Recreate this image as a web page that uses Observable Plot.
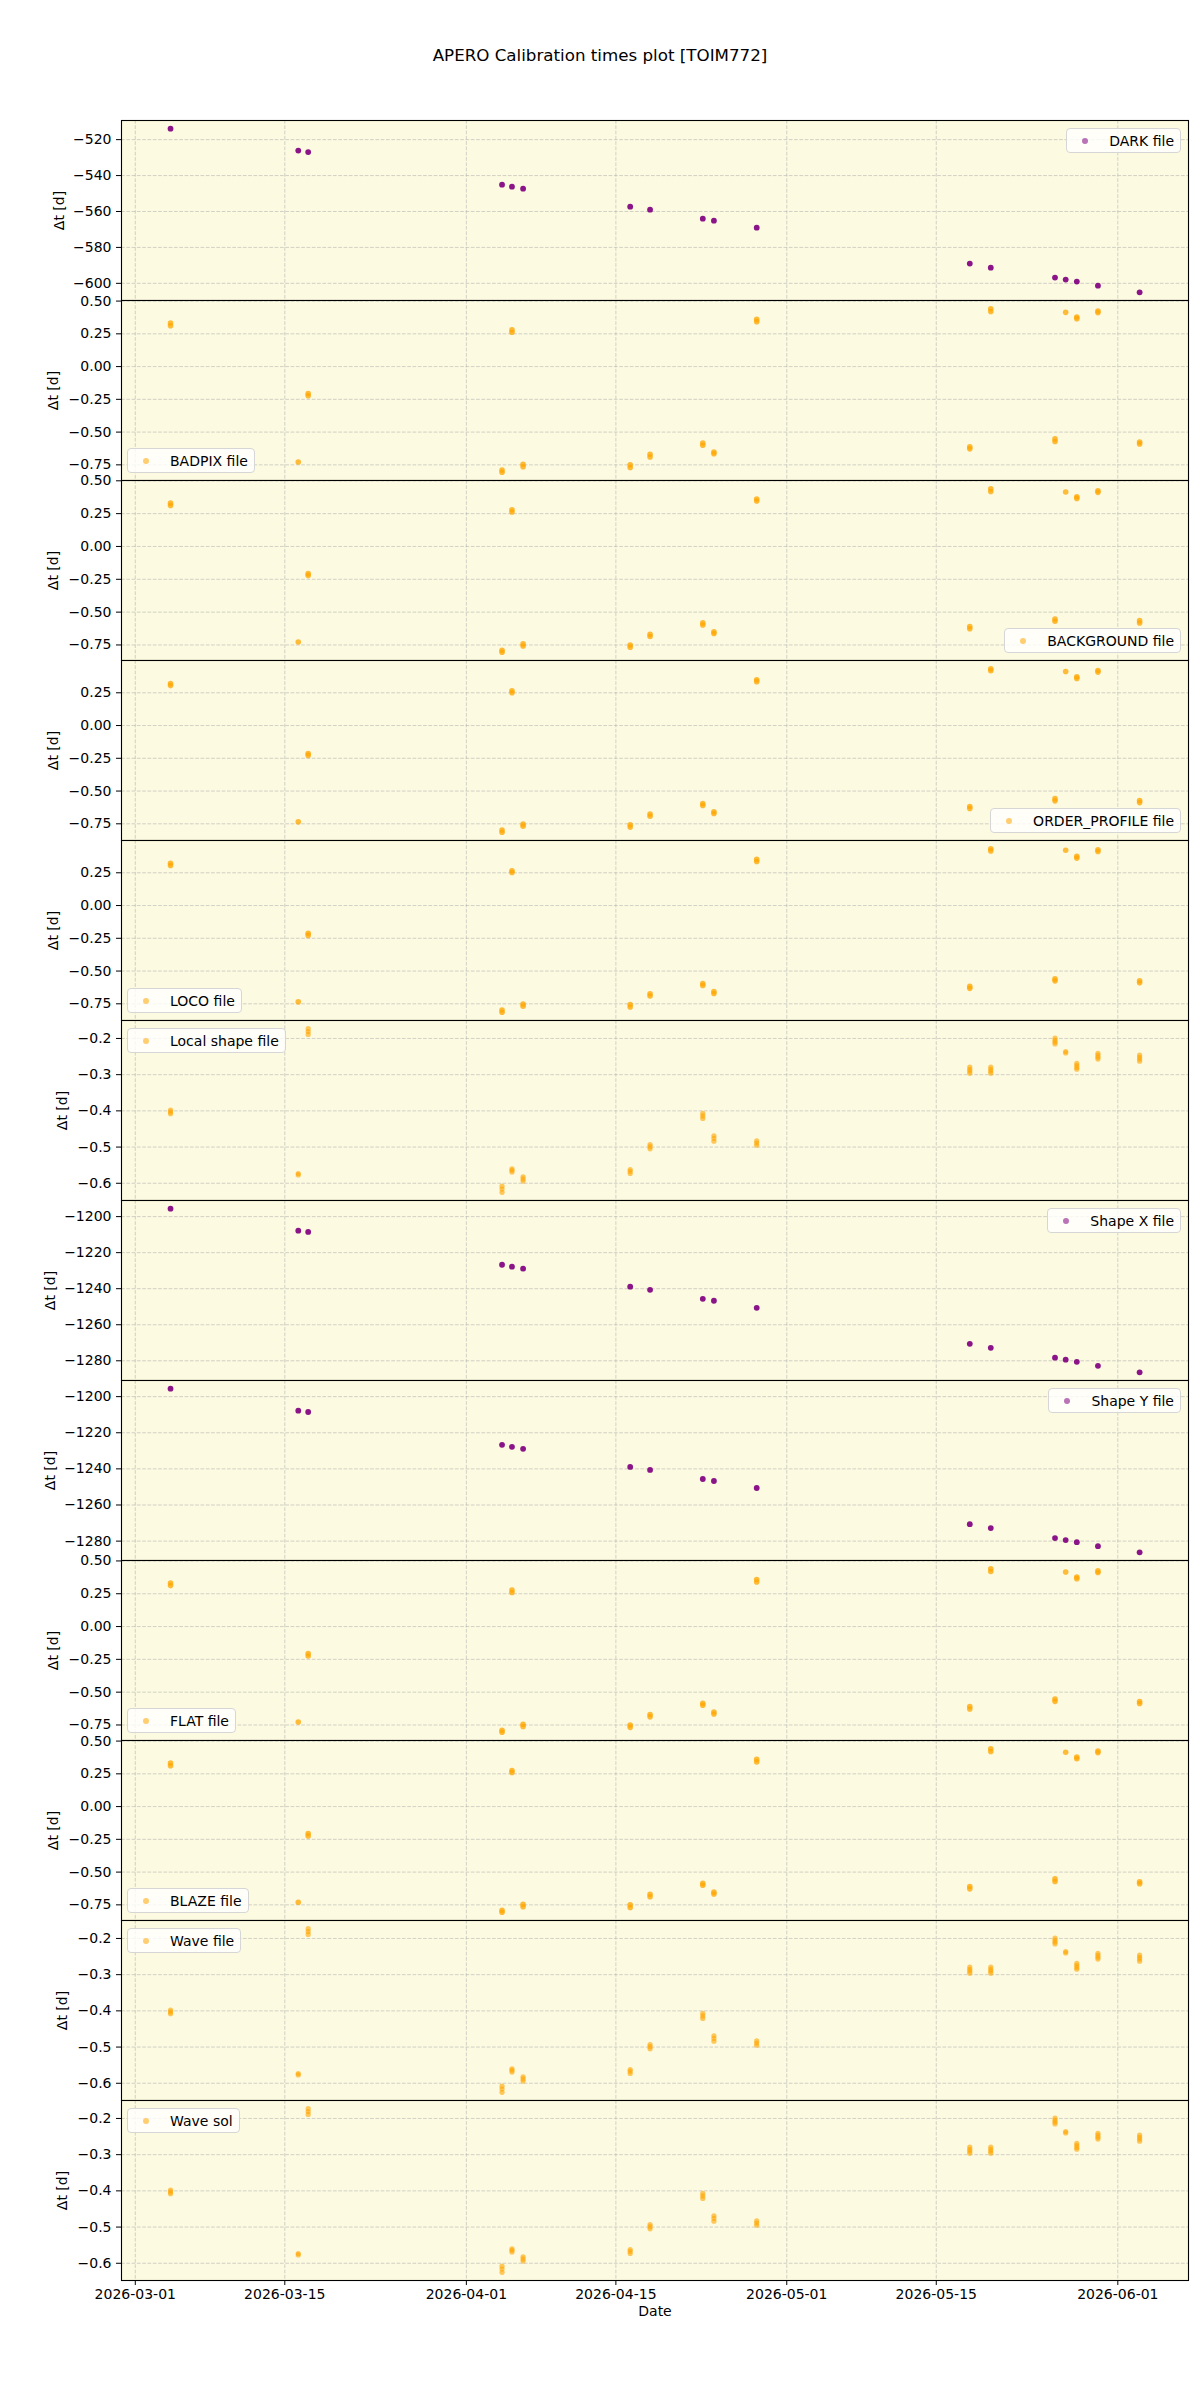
<!DOCTYPE html>
<html>
<head>
<meta charset="utf-8">
<script src="https://cdn.jsdelivr.net/npm/d3@7"></script>
<script src="https://cdn.jsdelivr.net/npm/@observablehq/plot@0.6"></script>
<style>
  html, body { margin: 0; padding: 0; background: #ffffff; }
  body { font-family: "DejaVu Sans", sans-serif; color: #000; width: 1200px; }
  #title { position: relative; height: 120px; width: 1200px; }
  #title div { position: absolute; left: 0; width: 1200px; top: 45px; text-align: center; font-size: 16.7px; line-height: 20px; }
  .panel { position: relative; width: 1200px; }
  .panel svg { display: block; overflow: visible; }
  .legend { position: absolute; box-sizing: border-box; height: 25px; display: flex; align-items: center;
            background: rgba(255,255,255,0.8); border: 1px solid #d6d6d6; border-radius: 4px;
            font-size: 14px; padding-right: 6px; white-space: nowrap; }
  .legend .mk { width: 6px; height: 6px; border-radius: 50%; margin-left: 15px; margin-right: 21px; }
</style>
</head>
<body>
<div id="title"><div>APERO Calibration times plot [TOIM772]</div></div>
<div id="chart"></div>
<script>
// ---------- data ----------
const obsDates = [
  "2026-03-04T07:12", "2026-03-16T06:15", "2026-03-17T04:30", "2026-04-04T08:10",
  "2026-04-05T06:30", "2026-04-06T07:30", "2026-04-16T08:10", "2026-04-18T04:50",
  "2026-04-23T03:20", "2026-04-24T04:20", "2026-04-28T04:30", "2026-05-18T03:20",
  "2026-05-20T02:30", "2026-05-26T02:50", "2026-05-27T02:50", "2026-05-28T03:50",
  "2026-05-30T03:20", "2026-06-03T01:00"
];
const xTickLabels = ["2026-03-01", "2026-03-15", "2026-04-01", "2026-04-15", "2026-05-01", "2026-05-15", "2026-06-01"];
const xLimits = ["2026-02-27T17:00", "2026-06-07T14:50"];

const darkDt = [-513.9, -526.1, -526.9, -545.1, -546.2, -547.3, -557.3, -559.0, -564.0,
  -565.1, -569.0, -589.0, -591.3, -596.8, -597.9, -599.0, -601.3, -605.0];

const badpixDt = [[0.333, 0.312], [-0.728], [-0.205, -0.222], [-0.790, -0.807], [0.280, 0.262],
  [-0.745, -0.765], [-0.750, -0.770], [-0.670, -0.690], [-0.583, -0.600], [-0.652, -0.665],
  [0.360, 0.343], [-0.613, -0.628], [0.442, 0.420], [-0.552, -0.572], [0.414], [0.378, 0.366],
  [0.424, 0.412], [-0.576, -0.590]];
const backgroundDt = [[0.330, 0.312], [-0.728], [-0.207, -0.222], [-0.790, -0.806], [0.279, 0.262],
  [-0.742, -0.758], [-0.750, -0.767], [-0.668, -0.686], [-0.582, -0.598], [-0.650, -0.663],
  [0.362, 0.346], [-0.610, -0.626], [0.440, 0.419], [-0.552, -0.570], [0.415], [0.378, 0.366],
  [0.424, 0.412], [-0.565, -0.582]];
const orderProfileDt = [[0.320, 0.305], [-0.735], [-0.213, -0.228], [-0.798, -0.815], [0.265, 0.250],
  [-0.752, -0.768], [-0.758, -0.775], [-0.675, -0.692], [-0.595, -0.610], [-0.658, -0.671],
  [0.350, 0.335], [-0.618, -0.633], [0.434, 0.418], [-0.558, -0.575], [0.412], [0.372, 0.360],
  [0.420, 0.408], [-0.572, -0.588]];
const locoDt = [[0.322, 0.306], [-0.735], [-0.212, -0.228], [-0.797, -0.815], [0.266, 0.252],
  [-0.752, -0.768], [-0.756, -0.774], [-0.673, -0.690], [-0.595, -0.610], [-0.656, -0.671],
  [0.352, 0.336], [-0.617, -0.632], [0.434, 0.417], [-0.560, -0.575], [0.422], [0.376, 0.362],
  [0.425, 0.412], [-0.575, -0.590]];
const flatDt = [[0.332, 0.312], [-0.728], [-0.206, -0.224], [-0.790, -0.806], [0.278, 0.260],
  [-0.744, -0.762], [-0.750, -0.768], [-0.670, -0.688], [-0.585, -0.600], [-0.652, -0.666],
  [0.358, 0.340], [-0.610, -0.628], [0.441, 0.420], [-0.552, -0.570], [0.416], [0.378, 0.365],
  [0.424, 0.412], [-0.572, -0.586]];
const blazeDt = [[0.332, 0.312], [-0.730], [-0.206, -0.225], [-0.792, -0.807], [0.276, 0.260],
  [-0.746, -0.764], [-0.750, -0.770], [-0.670, -0.688], [-0.586, -0.600], [-0.653, -0.667],
  [0.360, 0.341], [-0.610, -0.628], [0.442, 0.421], [-0.552, -0.572], [0.415], [0.378, 0.365],
  [0.424, 0.412], [-0.574, -0.588]];

const localShapeDt = [[-0.398, -0.403, -0.408], [-0.573, -0.577], [-0.173, -0.181, -0.189],
  [-0.608, -0.616, -0.625], [-0.560, -0.564, -0.569], [-0.582, -0.588, -0.594],
  [-0.562, -0.567, -0.573], [-0.493, -0.499, -0.505], [-0.407, -0.414, -0.421],
  [-0.469, -0.476, -0.484], [-0.483, -0.489, -0.495], [-0.279, -0.285, -0.290, -0.296],
  [-0.279, -0.285, -0.290, -0.296], [-0.199, -0.205, -0.210, -0.215], [-0.236, -0.240],
  [-0.269, -0.275, -0.280, -0.285], [-0.241, -0.247, -0.252, -0.257], [-0.246, -0.252, -0.257, -0.263]];
const waveFileDt = [[-0.398, -0.403, -0.408], [-0.573, -0.577], [-0.173, -0.181, -0.189],
  [-0.608, -0.616, -0.625], [-0.560, -0.564, -0.569], [-0.582, -0.588, -0.594],
  [-0.562, -0.567, -0.573], [-0.493, -0.499, -0.505], [-0.407, -0.414, -0.421],
  [-0.469, -0.476, -0.484], [-0.483, -0.489, -0.495], [-0.279, -0.285, -0.290, -0.296],
  [-0.279, -0.285, -0.290, -0.296], [-0.199, -0.205, -0.210, -0.215], [-0.236, -0.240],
  [-0.269, -0.275, -0.280, -0.285], [-0.241, -0.247, -0.252, -0.257], [-0.246, -0.252, -0.257, -0.263]];
const waveSolDt = [[-0.398, -0.403, -0.408], [-0.573, -0.577], [-0.173, -0.181, -0.189],
  [-0.608, -0.616, -0.625], [-0.560, -0.564, -0.569], [-0.582, -0.588, -0.594],
  [-0.562, -0.567, -0.573], [-0.493, -0.499, -0.505], [-0.407, -0.414, -0.421],
  [-0.469, -0.476, -0.484], [-0.483, -0.489, -0.495], [-0.279, -0.285, -0.290, -0.296],
  [-0.279, -0.285, -0.290, -0.296], [-0.199, -0.205, -0.210, -0.215], [-0.236, -0.240],
  [-0.269, -0.275, -0.280, -0.285], [-0.241, -0.247, -0.252, -0.257], [-0.246, -0.252, -0.257, -0.263]];

const shapeXDt = [-1195.6, -1207.8, -1208.5, -1226.7, -1227.8, -1228.9, -1238.9, -1240.6, -1245.6,
  -1246.7, -1250.6, -1270.6, -1272.8, -1278.3, -1279.4, -1280.6, -1282.8, -1286.4];
const shapeYDt = [-1195.6, -1207.8, -1208.5, -1226.7, -1227.8, -1228.9, -1238.9, -1240.6, -1245.6,
  -1246.7, -1250.6, -1270.6, -1272.8, -1278.3, -1279.4, -1280.6, -1282.8, -1286.2];

const darkTicks = [-600, -580, -560, -540, -520];
const halfTicks = [-0.75, -0.5, -0.25, 0, 0.25, 0.5];
const shapeTicks = [-0.6, -0.5, -0.4, -0.3, -0.2];
const shapeXYTicks = [-1280, -1260, -1240, -1220, -1200];

const panelNames = ["DARK file", "BADPIX file", "BACKGROUND file", "ORDER_PROFILE file", "LOCO file",
  "Local shape file", "Shape X file", "Shape Y file", "FLAT file", "BLAZE file", "Wave file", "Wave sol"];

// ---------- styling / layout ----------
const BG = "#fcfae0";
const PURPLE = "#800080";
const ORANGE = "#ffa500";
const parse = d3.utcParse("%Y-%m-%dT%H:%M");
const parseDay = d3.utcParse("%Y-%m-%d");
const xDomain = xLimits.map(parse);
const xTicks = xTickLabels.map(parseDay);

const panels = [
  {name: panelNames[0], data: darkDt, ticks: darkTicks, fmt: "d", color: PURPLE, op: 0.92, r: 2.9, legend: "ur", ldx: -62},
  {name: panelNames[1], data: badpixDt, ticks: halfTicks, fmt: ".2f", color: ORANGE, op: 0.75, r: 2.8, legend: "ll", ldx: -68},
  {name: panelNames[2], data: backgroundDt, ticks: halfTicks, fmt: ".2f", color: ORANGE, op: 0.75, r: 2.8, legend: "lr", ldx: -68},
  {name: panelNames[3], data: orderProfileDt, ticks: halfTicks, fmt: ".2f", color: ORANGE, op: 0.75, r: 2.8, legend: "lr", ldx: -68},
  {name: panelNames[4], data: locoDt, ticks: halfTicks, fmt: ".2f", color: ORANGE, op: 0.75, r: 2.8, legend: "ll", ldx: -68},
  {name: panelNames[5], data: localShapeDt, ticks: shapeTicks, fmt: ".1f", color: ORANGE, op: 0.6, r: 2.6, legend: "ul", ldx: -59},
  {name: panelNames[6], data: shapeXDt, ticks: shapeXYTicks, fmt: "d", color: PURPLE, op: 0.92, r: 2.9, legend: "ur", ldx: -71},
  {name: panelNames[7], data: shapeYDt, ticks: shapeXYTicks, fmt: "d", color: PURPLE, op: 0.92, r: 2.9, legend: "ur", ldx: -71},
  {name: panelNames[8], data: flatDt, ticks: halfTicks, fmt: ".2f", color: ORANGE, op: 0.75, r: 2.8, legend: "ll", ldx: -68},
  {name: panelNames[9], data: blazeDt, ticks: halfTicks, fmt: ".2f", color: ORANGE, op: 0.75, r: 2.8, legend: "ll", ldx: -68},
  {name: panelNames[10], data: waveFileDt, ticks: shapeTicks, fmt: ".1f", color: ORANGE, op: 0.6, r: 2.6, legend: "ul", ldx: -59},
  {name: panelNames[11], data: waveSolDt, ticks: shapeTicks, fmt: ".1f", color: ORANGE, op: 0.6, r: 2.6, legend: "ul", ldx: -59}
];

const gridStyle = {stroke: "#b0b0b0", strokeOpacity: 0.7, strokeWidth: 0.8, strokeDasharray: "3.7,1.6"};
const chart = document.getElementById("chart");

panels.forEach((p, idx) => {
  const isLast = idx === panels.length - 1;
  const rows = [];
  p.data.forEach((v, i) => {
    const vals = Array.isArray(v) ? v : [v];
    vals.forEach(dt => rows.push({date: parse(obsDates[i]), dt}));
  });
  const lo = d3.min(rows, d => d.dt), hi = d3.max(rows, d => d.dt);
  const pad = (hi - lo) * 0.05;
  const yDomain = [lo - pad, hi + pad];
  const eps = (hi - lo) * 1e-6;
  const yt = p.ticks.filter(t => t >= yDomain[0] - eps && t <= yDomain[1] + eps);

  const marks = [
    Plot.frame({fill: BG, stroke: null}),
    Plot.gridX(xTicks, gridStyle),
    Plot.gridY(yt, gridStyle),
    Plot.dot(rows, {x: "date", y: "dt", r: p.r, fill: p.color, fillOpacity: p.op}),
    Plot.frame({stroke: "#000", strokeWidth: 1.1}),
    Plot.axisY(yt, {anchor: "left", tickSize: 5, tickPadding: 5, tickFormat: d3.format(p.fmt), fontSize: 14, label: null}),
    Plot.text(["Δt [d]"], {frameAnchor: "left", dx: p.ldx, rotate: -90, textAnchor: "middle", fontSize: 14, fill: "#000"})
  ];
  if (isLast) {
    marks.push(
      Plot.axisX(xTicks, {anchor: "bottom", tickSize: 5, tickPadding: 4, tickFormat: d3.utcFormat("%Y-%m-%d"), fontSize: 14, label: null}),
      Plot.text(["Date"], {frameAnchor: "bottom", dy: 35, fontSize: 14, fill: "#000"})
    );
  }
  const svg = Plot.plot({
    width: 1200,
    height: isLast ? 240 : 180,
    marginLeft: 121, marginRight: 12, marginTop: 0, marginBottom: isLast ? 60 : 0,
    style: {background: "transparent", overflow: "visible", fontFamily: "DejaVu Sans", fontSize: "14px", color: "#000"},
    x: {type: "utc", domain: xDomain, axis: null},
    y: {domain: yDomain, axis: null},
    marks
  });
  const wrap = document.createElement("div");
  wrap.className = "panel";
  wrap.style.height = (isLast ? 240 : 180) + "px";
  wrap.appendChild(svg);

  const lg = document.createElement("div");
  lg.className = "legend";
  const mk = document.createElement("span");
  mk.className = "mk";
  mk.style.background = p.color;
  mk.style.opacity = 0.55;
  const tx = document.createElement("span");
  tx.textContent = p.name;
  lg.appendChild(mk); lg.appendChild(tx);
  if (p.legend[0] === "u") lg.style.top = "8px"; else lg.style.top = (180 - 7 - 25) + "px";
  if (p.legend[1] === "l") lg.style.left = "127px"; else lg.style.right = "19px";
  wrap.appendChild(lg);
  chart.appendChild(wrap);
});
</script>
</body>
</html>
